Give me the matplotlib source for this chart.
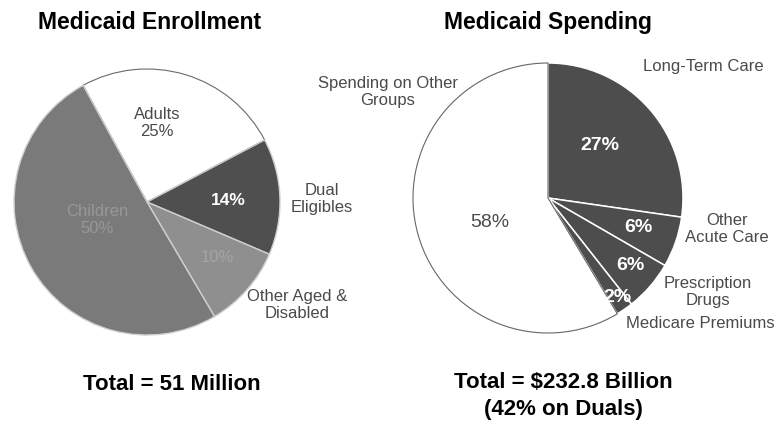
import numpy as np
import matplotlib.pyplot as plt

# enrollment shares (percent of 51 million)
enroll_labels = ["Adults", "Dual Eligibles", "Other Aged & Disabled", "Children"]
enroll_pct = [25, 14, 10, 50]
enroll_colors = ["#ffffff", "#4f4f4f", "#8f8f8f", "#7a7a7a"]

# spending shares (percent of $232.8 billion)
spend_labels = ["Long-Term Care", "Other Acute Care", "Prescription Drugs",
                "Medicare Premiums", "Spending on Other Groups"]
spend_pct = [27, 6, 6, 2, 58]
spend_colors = ["#4d4d4d", "#4d4d4d", "#4d4d4d", "#4d4d4d", "#ffffff"]

W, H = 775, 423
fig = plt.figure(figsize=(W / 100, H / 100), dpi=100)
ax = fig.add_axes([0, 0, 1, 1])
FONT = "Liberation Sans"


def put(x, y, s, **kw):
    # positions given in pixels from the top-left corner
    kw.setdefault("family", FONT)
    kw.setdefault("ha", "center")
    kw.setdefault("va", "center")
    ax.text(x, H - y, s, **kw)


# left pie: enrollment
w1, _ = ax.pie(enroll_pct, colors=enroll_colors, startangle=118.7,
               counterclock=False, center=(147, H - 202), radius=133,
               wedgeprops=dict(edgecolor="#d0d0d0", linewidth=1.0))
w1[0].set_edgecolor("#6a6a6a")
w1[0].set_linewidth(0.8)

# right pie: spending
w2, _ = ax.pie(spend_pct, colors=spend_colors, startangle=90,
               counterclock=False, center=(548, H - 198), radius=135,
               wedgeprops=dict(edgecolor="white", linewidth=1.1))
w2[-1].set_edgecolor("#666666")
w2[-1].set_linewidth(0.8)

ax.set_xlim(0, W)
ax.set_ylim(0, H)
ax.set_aspect("equal")
ax.axis("off")

# titles
put(150, 29, "Medicaid Enrollment", fontsize=16.5, fontweight="bold", va="baseline")
put(548, 29, "Medicaid Spending", fontsize=16.5, fontweight="bold", va="baseline")

lab = dict(fontsize=12, color="#4a4a4a", linespacing=1.1)

# enrollment labels
put(157, 123, f"Adults\n{enroll_pct[0]}%", **lab)
put(228, 200, f"{enroll_pct[1]}%", fontsize=12.5, fontweight="bold", color="white")
put(322, 199, "Dual\nEligibles", **lab)
put(97, 220, f"Children\n{enroll_pct[3]}%", fontsize=12, color="#979797", linespacing=1.1)
put(217, 257, f"{enroll_pct[2]}%", fontsize=12, color="#a5a5a5")
put(297, 305, "Other Aged &\nDisabled", **lab)

# spending labels
put(703, 66, "Long-Term Care", **lab)
put(388, 92, "Spending on Other\nGroups", **lab)
put(600, 145, f"{spend_pct[0]}%", fontsize=14, fontweight="bold", color="white")
put(638, 227, f"{spend_pct[1]}%", fontsize=14, fontweight="bold", color="white")
put(630, 265, f"{spend_pct[2]}%", fontsize=14, fontweight="bold", color="white")
put(617, 298, f"{spend_pct[3]}%", fontsize=14, fontweight="bold", color="white")
put(490, 222, f"{spend_pct[4]}%", fontsize=14, color="#4a4a4a")
put(727, 229, "Other\nAcute Care", **lab)
put(708, 292, "Prescription\nDrugs", **lab)
put(700, 324, "Medicare Premiums", **lab)

# totals
put(172, 390, "Total = 51 Million", fontsize=16, fontweight="bold", va="baseline")
put(563, 388, "Total = $232.8 Billion", fontsize=16, fontweight="bold", va="baseline")
put(563, 415, "(42% on Duals)", fontsize=16, fontweight="bold", va="baseline")

fig.savefig("out.png", dpi=100)
